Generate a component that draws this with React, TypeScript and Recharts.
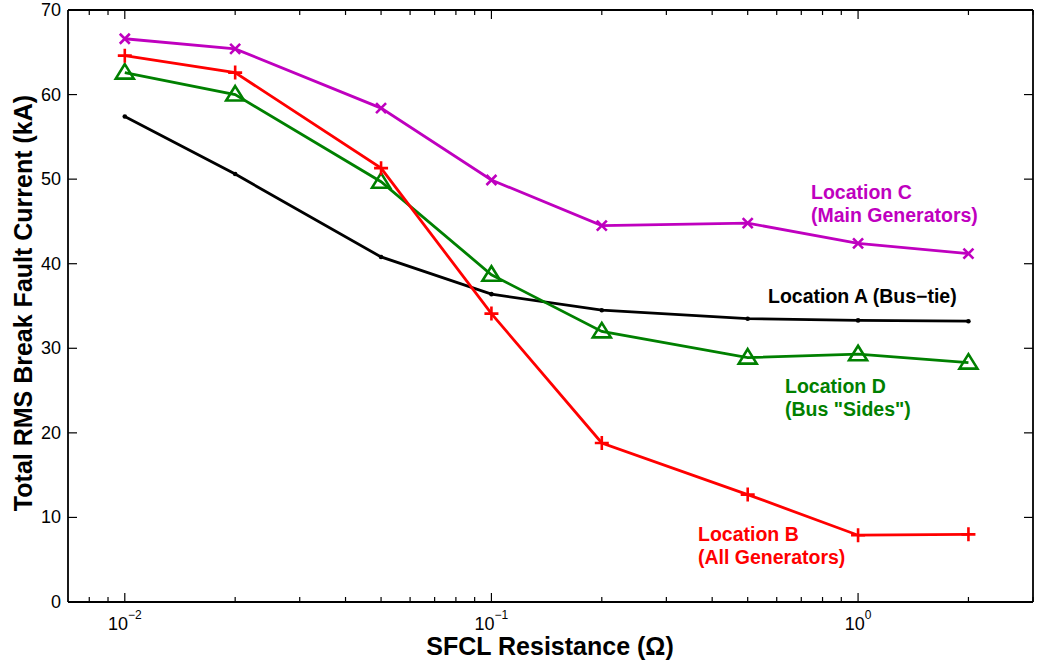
import React from 'react';
import { LineChart, Line, XAxis, YAxis } from 'recharts';

// SFCL resistance (ohm) at each simulation point
const resistance = [0.01, 0.02, 0.05, 0.1, 0.2, 0.5, 1, 2];

// Total RMS break fault current (kA)
const locationA = [57.4, 50.6, 40.8, 36.4, 34.5, 33.5, 33.3, 33.2];
const locationB = [64.6, 62.6, 51.3, 34.1, 18.8, 12.7, 7.9, 8.0];
const locationC = [66.6, 65.4, 58.4, 49.9, 44.5, 44.8, 42.4, 41.2];
const locationD = [62.6, 60.0, 49.7, 38.7, 32.0, 28.9, 29.3, 28.3];

const xTicks = [
  0.008, 0.009, 0.01, 0.02, 0.03, 0.04, 0.05, 0.06, 0.07, 0.08, 0.09, 0.1, 0.2, 0.3, 0.4, 0.5,
  0.6, 0.7, 0.8, 0.9, 1, 2, 3,
];
const xMajor = [0.01, 0.1, 1];
const xMajorExp = ['\u22122', '\u22121', '0'];
const yTicks = [0, 10, 20, 30, 40, 50, 60, 70];

const data = resistance.map((r, i) => ({
  r,
  a: locationA[i],
  b: locationB[i],
  c: locationC[i],
  d: locationD[i],
}));

const FONT = '"Liberation Sans", Arial, Helvetica, sans-serif';
const MAJOR = 9;
const MINOR = 5;

const BottomTick = (props: any) => {
  const { x, y, payload } = props;
  const idx = xMajor.indexOf(payload.value);
  return (
    <g>
      <line x1={x} y1={y} x2={x} y2={y - (idx >= 0 ? MAJOR : MINOR)} stroke="#000" strokeWidth={1.2} />
      {idx >= 0 && (
        <text x={x} y={y + 28} textAnchor="middle" fontSize={18} fill="#000" fontFamily={FONT}>
          10
          <tspan dy={-11} fontSize={12}>
            {xMajorExp[idx]}
          </tspan>
        </text>
      )}
    </g>
  );
};

const TopTick = (props: any) => {
  const { x, y, payload } = props;
  const major = xMajor.indexOf(payload.value) >= 0;
  return <line x1={x} y1={y} x2={x} y2={y + (major ? MAJOR : MINOR)} stroke="#000" strokeWidth={1.2} />;
};

const LeftTick = (props: any) => {
  const { x, y, payload } = props;
  return (
    <g>
      <line x1={x} y1={y} x2={x + MAJOR} y2={y} stroke="#000" strokeWidth={1.2} />
      <text x={x - 7} y={y + 6} textAnchor="end" fontSize={18} fill="#000" fontFamily={FONT}>
        {payload.value}
      </text>
    </g>
  );
};

const RightTick = (props: any) => {
  const { x, y } = props;
  return <line x1={x} y1={y} x2={x - MAJOR} y2={y} stroke="#000" strokeWidth={1.2} />;
};

const DotA = (p: any) => <circle key={`a-${p.index}`} cx={p.cx} cy={p.cy} r={2.3} fill="#000" />;

const PlusB = (p: any) => (
  <path
    key={`b-${p.index}`}
    d={`M${p.cx - 7},${p.cy}H${p.cx + 7}M${p.cx},${p.cy - 7}V${p.cy + 7}`}
    stroke="#ff0000"
    strokeWidth={2.6}
    fill="none"
  />
);

const CrossC = (p: any) => (
  <path
    key={`c-${p.index}`}
    d={`M${p.cx - 5},${p.cy - 5}L${p.cx + 5},${p.cy + 5}M${p.cx - 5},${p.cy + 5}L${p.cx + 5},${p.cy - 5}`}
    stroke="#bf00bf"
    strokeWidth={2.6}
    fill="none"
  />
);

const TriD = (p: any) => (
  <path
    key={`d-${p.index}`}
    d={`M${p.cx},${p.cy - 8.5}L${p.cx + 9},${p.cy + 6}L${p.cx - 9},${p.cy + 6}Z`}
    stroke="#008000"
    strokeWidth={2.6}
    fill="none"
  />
);

const axisLine = { stroke: '#000', strokeWidth: 1.8 };

export default function App() {
  return (
    <div
      style={{
        position: 'fixed',
        left: 0,
        top: 0,
        width: 1038,
        height: 666,
        background: '#fff',
        fontFamily: FONT,
      }}
    >
      <LineChart width={1038} height={666} data={data} margin={{ top: 9, right: 4, bottom: 63, left: 67 }}>
        <XAxis
          dataKey="r"
          type="number"
          scale="log"
          domain={[0.007, 3]}
          ticks={xTicks}
          interval={0}
          allowDataOverflow
          height={1}
          tickSize={0}
          tickMargin={0}
          tickLine={false}
          axisLine={axisLine}
          tick={<BottomTick />}
        />
        <XAxis
          xAxisId="top"
          orientation="top"
          dataKey="r"
          type="number"
          scale="log"
          domain={[0.007, 3]}
          ticks={xTicks}
          interval={0}
          allowDataOverflow
          height={1}
          tickSize={0}
          tickMargin={0}
          tickLine={false}
          axisLine={axisLine}
          tick={<TopTick />}
        />
        <YAxis
          type="number"
          domain={[0, 70]}
          ticks={yTicks}
          interval={0}
          allowDataOverflow
          width={1}
          tickSize={0}
          tickMargin={0}
          tickLine={false}
          axisLine={axisLine}
          tick={<LeftTick />}
        />
        <YAxis
          yAxisId="right"
          orientation="right"
          type="number"
          domain={[0, 70]}
          ticks={yTicks}
          interval={0}
          allowDataOverflow
          width={1}
          tickSize={0}
          tickMargin={0}
          tickLine={false}
          axisLine={axisLine}
          tick={<RightTick />}
        />
        <Line dataKey="a" stroke="#000" strokeWidth={2.8} dot={DotA} isAnimationActive={false} />
        <Line dataKey="d" stroke="#008000" strokeWidth={2.8} dot={TriD} isAnimationActive={false} />
        <Line dataKey="b" stroke="#ff0000" strokeWidth={2.8} dot={PlusB} isAnimationActive={false} />
        <Line dataKey="c" stroke="#bf00bf" strokeWidth={2.8} dot={CrossC} isAnimationActive={false} />
      </LineChart>
      <svg
        width={1038}
        height={666}
        style={{ position: 'absolute', left: 0, top: 0, pointerEvents: 'none' }}
        fontFamily={FONT}
        fontWeight="bold"
      >
        <text x={550} y={655} textAnchor="middle" fontSize={25} fill="#000">
          SFCL Resistance (Ω)
        </text>
        <text x={0} y={0} transform="translate(32,303) rotate(-90)" textAnchor="middle" fontSize={25} fill="#000">
          Total RMS Break Fault Current (kA)
        </text>
        <g fontSize={19.5}>
          <text x={811} y={199} fill="#bf00bf">Location C</text>
          <text x={811} y={222} fill="#bf00bf">(Main Generators)</text>
          <text x={768} y={303} fill="#000">Location A (Bus−tie)</text>
          <text x={785} y={393} fill="#008000">Location D</text>
          <text x={785} y={416} fill="#008000">(Bus "Sides")</text>
          <text x={698} y={541} fill="#ff0000">Location B</text>
          <text x={698} y={564} fill="#ff0000">(All Generators)</text>
        </g>
      </svg>
    </div>
  );
}
